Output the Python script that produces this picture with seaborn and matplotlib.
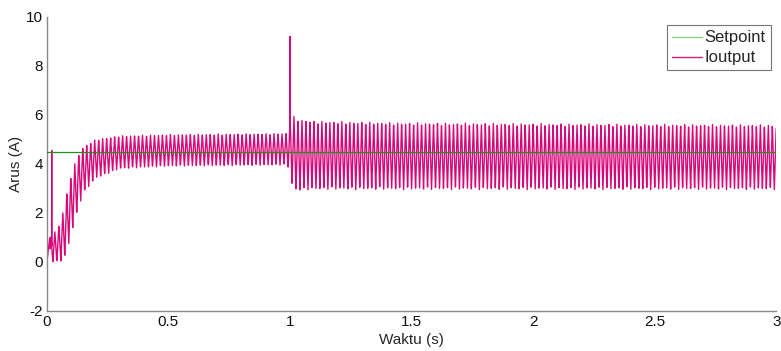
import numpy as np
import pandas as pd
import matplotlib
matplotlib.use("Agg")
import matplotlib.pyplot as plt
import seaborn as sns

# envelope of the current ripple (time in s, current in A)
env_t = [0.0, 0.012, 0.03, 0.05, 0.07, 0.09, 0.11, 0.13, 0.15, 0.2, 0.3, 0.5, 0.99,
         1.005, 1.02, 1.1, 1.5, 2.0, 2.5, 3.0]
env_upper = [0.0, 1.0, 1.2, 1.5, 2.2, 3.2, 3.9, 4.4, 4.7, 5.0, 5.15, 5.2, 5.25,
             6.2, 5.85, 5.75, 5.68, 5.65, 5.62, 5.6]
env_lower = [0.0, 0.0, 0.0, 0.0, 0.1, 0.7, 1.5, 2.2, 2.8, 3.4, 3.8, 3.9, 3.95,
             3.2, 2.9, 2.95, 2.95, 2.95, 2.95, 2.95]

# single spikes
spike_t = [0.02, 1.0]
spike_v = [4.55, 9.2]

ripple_hz = 61.0
sample_step = 0.0007
setpoint = 4.5

t = np.arange(0, 3.0, sample_step)
up = np.interp(t, env_t, env_upper)
lo = np.interp(t, env_t, env_lower)
phase = (t * ripple_hz) % 1.0
tri = np.abs(2 * phase - 1)
i_out = lo + (up - lo) * tri
i_out[t < 0.012] = t[t < 0.012] / 0.012 * 1.0

t = np.concatenate([t, spike_t])
i_out = np.concatenate([i_out, spike_v])
order = np.argsort(t, kind="stable")
t, i_out = t[order], i_out[order]

df = pd.DataFrame({"t": t, "i": i_out})
sp = pd.DataFrame({"t": [0.0, 3.0], "i": [setpoint, setpoint]})

sns.set_style("white")
plt.rcParams["font.family"] = ["Liberation Sans Narrow", "Liberation Sans", "DejaVu Sans"]
plt.rcParams["axes.unicode_minus"] = False

fig, ax = plt.subplots(figsize=(7.81, 3.51), dpi=100)
fig.subplots_adjust(left=0.060, right=0.994, top=0.952, bottom=0.114)

sns.lineplot(data=sp, x="t", y="i", ax=ax, color="#1f8f1f", lw=0.9,
             label="Setpoint", zorder=3)
sns.lineplot(data=df, x="t", y="i", ax=ax, color="#d8087a", lw=1.0,
             label="Ioutput", estimator=None, sort=False, zorder=2)

ax.set_xlim(0, 3)
ax.set_ylim(-2, 10)
ax.set_xticks([0, 0.5, 1, 1.5, 2, 2.5, 3])
ax.set_xticklabels(["0", "0.5", "1", "1.5", "2", "2.5", "3"])
ax.set_yticks([-2, 0, 2, 4, 6, 8, 10])
ax.set_xlabel("Waktu (s)", fontsize=11, labelpad=3)
ax.set_ylabel("Arus (A)", fontsize=11, labelpad=2)

for s in ["top", "right"]:
    ax.spines[s].set_visible(False)
for s in ["left", "bottom"]:
    ax.spines[s].set_color("#888888")
    ax.spines[s].set_linewidth(1.0)
ax.tick_params(direction="in", length=5, width=0.8, color="#888888",
               labelsize=11, pad=3, labelcolor="#111111")

leg = ax.legend(loc="upper right", bbox_to_anchor=(0.997, 0.982), frameon=True,
                fancybox=False, fontsize=12, handlelength=1.8, borderpad=0.3,
                labelspacing=0.3, handletextpad=0.15, borderaxespad=0.2)
leg.get_frame().set_edgecolor("#555555")
leg.get_frame().set_linewidth(0.8)
leg.get_lines()[0].set_color("#7fd07f")
leg.get_lines()[1].set_color("#d02070")

fig.savefig("out.png", dpi=100)
